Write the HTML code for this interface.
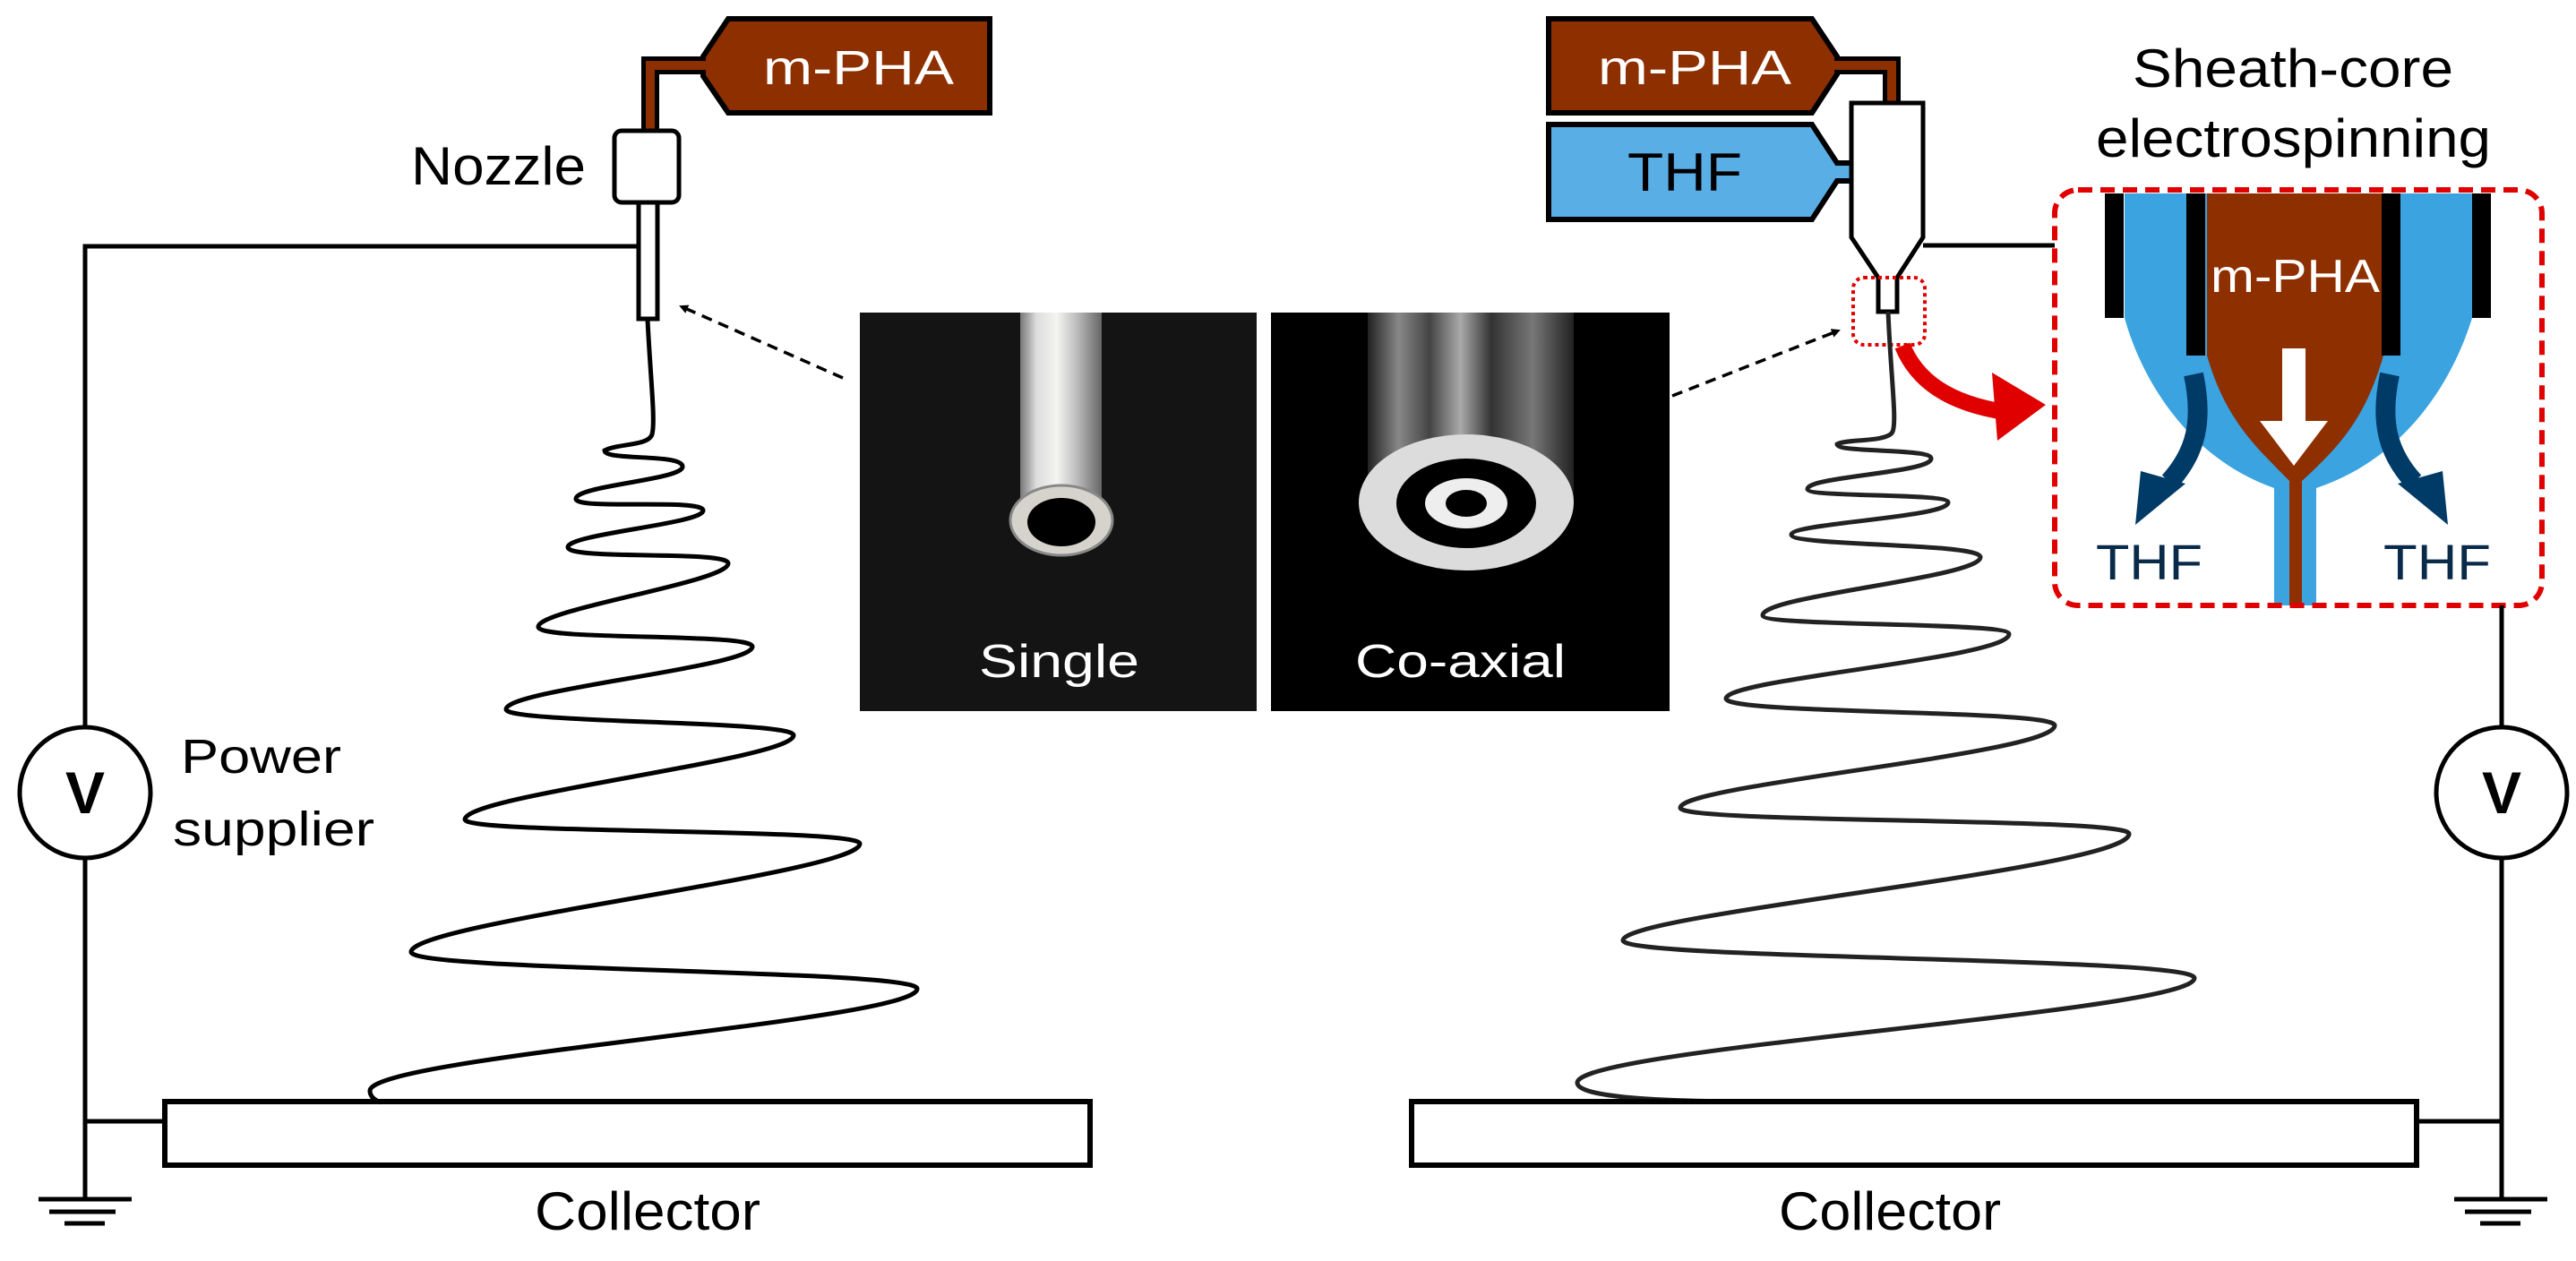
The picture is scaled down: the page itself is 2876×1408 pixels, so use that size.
<!DOCTYPE html>
<html><head><meta charset="utf-8"><style>
html,body{margin:0;padding:0;background:#fff;}
svg{display:block;}
text{font-family:"Liberation Sans",Arial,sans-serif;}
</style></head><body>
<svg width="2876" height="1408" viewBox="0 0 2876 1408" xmlns="http://www.w3.org/2000/svg">
<defs>
<linearGradient id="t1" x1="0" x2="1" y1="0" y2="0">
<stop offset="0" stop-color="#777"/><stop offset="0.2" stop-color="#ddd"/><stop offset="0.45" stop-color="#f4f4f0"/><stop offset="0.7" stop-color="#bbb"/><stop offset="1" stop-color="#666"/>
</linearGradient>
<linearGradient id="t2" x1="0" x2="1" y1="0" y2="0">
<stop offset="0" stop-color="#222"/><stop offset="0.15" stop-color="#888"/><stop offset="0.3" stop-color="#444"/><stop offset="0.45" stop-color="#aaa"/><stop offset="0.6" stop-color="#333"/><stop offset="0.8" stop-color="#777"/><stop offset="1" stop-color="#222"/>
</linearGradient>
<marker id="ah" markerWidth="10" markerHeight="10" refX="8" refY="5" orient="auto" markerUnits="userSpaceOnUse" viewBox="0 0 10 10"><path d="M0,0 L10,5 L0,10 Z" fill="#000"/></marker>
</defs>

<!-- LEFT SETUP -->
<polygon points="813,21 1105,21 1105,126 813,126 785,85 785,63" fill="#8e2f00" stroke="#000" stroke-width="6"/>
<text x="852" y="94" font-size="54" fill="#fff" textLength="213" lengthAdjust="spacingAndGlyphs">m-PHA</text>
<path d="M726,146 V73 H788" fill="none" stroke="#000" stroke-width="20"/>
<path d="M726,146 V73 H790" fill="none" stroke="#8e2f00" stroke-width="10"/>
<rect x="686" y="146" width="72" height="80" rx="8" fill="#fff" stroke="#000" stroke-width="5"/>
<rect x="713" y="226" width="21" height="130" fill="#fff" stroke="#000" stroke-width="5"/>
<text x="459" y="206" font-size="60" textLength="195" lengthAdjust="spacingAndGlyphs">Nozzle</text>
<path d="M712,275 H95 V812 M95,958 V1337 M95,1252 H184" fill="none" stroke="#000" stroke-width="5"/>
<ellipse cx="95" cy="885" rx="73" ry="73" fill="#fff" stroke="#000" stroke-width="5"/>
<text x="95" y="908" font-size="66" font-weight="bold" text-anchor="middle">V</text>
<path d="M43,1339 H147 M55,1353 H129 M72,1366 H117" stroke="#000" stroke-width="5"/>
<text x="202" y="863" font-size="54" textLength="179" lengthAdjust="spacingAndGlyphs">Power</text>
<text x="193" y="944" font-size="54" textLength="225" lengthAdjust="spacingAndGlyphs">supplier</text>
<rect x="184" y="1230" width="1033" height="71" fill="#fff" stroke="#000" stroke-width="6"/>
<text x="597" y="1373" font-size="60" textLength="252" lengthAdjust="spacingAndGlyphs">Collector</text>
<path d="M723,357 C726,420 732,470 728,485 C724,498 690,495 675,503
C675,515 762,506 762,521 C762,536 643,542 643,557 C643,570 785,556 785,570 C785,585 634,596 634,611
C634,626 813,614 813,629 C813,650 601,680 601,700 C601,716 840,706 840,722 C840,745 565,770 565,792
C565,808 886,804 886,821 C886,848 519,888 519,915 C519,932 960,924 960,942 C960,975 459,1030 459,1063
C459,1085 1024,1082 1024,1104 C1024,1140 413,1180 413,1218 C413,1225 420,1229 425,1231" fill="none" stroke="#000" stroke-width="5"/>
<line x1="941" y1="422" x2="760" y2="342" stroke="#000" stroke-width="3.5" stroke-dasharray="12,8" marker-end="url(#ah)"/>

<!-- PHOTOS -->
<rect x="960" y="349" width="443" height="445" fill="#141414"/>
<rect x="1139" y="349" width="91" height="232" fill="url(#t1)"/>
<ellipse cx="1185" cy="581" rx="57" ry="39" fill="#d6d3cc" stroke="#888" stroke-width="3"/>
<ellipse cx="1185" cy="583" rx="38" ry="27" fill="#000"/>
<text x="1093" y="756" font-size="52" fill="#fff" textLength="179" lengthAdjust="spacingAndGlyphs">Single</text>
<rect x="1419" y="349" width="445" height="445" fill="#000"/>
<rect x="1527" y="349" width="230" height="212" fill="url(#t2)"/>
<ellipse cx="1637" cy="561" rx="120" ry="76" fill="#dcdcdc"/>
<ellipse cx="1637" cy="562" rx="78" ry="50" fill="#000"/>
<ellipse cx="1637" cy="562" rx="46" ry="28" fill="#eee"/>
<ellipse cx="1637" cy="562" rx="23" ry="15" fill="#000"/>
<text x="1513" y="756" font-size="52" fill="#fff" textLength="235" lengthAdjust="spacingAndGlyphs">Co-axial</text>

<!-- RIGHT SETUP -->
<polygon points="1729,21 2023,21 2051,63 2051,83 2023,126 1729,126" fill="#8e2f00" stroke="#000" stroke-width="6"/>
<text x="1784" y="94" font-size="54" fill="#fff" textLength="216" lengthAdjust="spacingAndGlyphs">m-PHA</text>
<path d="M2049,73 H2112 V117" fill="none" stroke="#000" stroke-width="20"/>
<path d="M2047,73 H2112 V117" fill="none" stroke="#8e2f00" stroke-width="10"/>
<polygon points="1729,139 2023,139 2051,182 2069,182 2069,202 2051,202 2023,245 1729,245" fill="#5aaee6" stroke="#000" stroke-width="6"/>
<text x="1817" y="213" font-size="60" fill="#000" textLength="128" lengthAdjust="spacingAndGlyphs">THF</text>
<polygon points="2067,115 2147,115 2147,265 2118,310 2118,348 2097,348 2097,310 2067,265" fill="#fff" stroke="#000" stroke-width="5"/>
<path d="M2147,274 H2294" stroke="#000" stroke-width="5"/>
<rect x="2069" y="310" width="80" height="75" rx="12" fill="none" stroke="#e00000" stroke-width="4" stroke-dasharray="4,4"/>
<path d="M2108,348 C2111,420 2118,470 2113,482 C2108,494 2060,490 2051,496
C2051,506 2156,500 2156,512 C2156,528 2018,532 2018,546 C2018,556 2175,550 2175,561 C2175,578 2000,584 2000,597
C2000,610 2211,606 2211,622 C2211,645 1968,665 1968,687 C1968,700 2243,694 2243,708 C2243,735 1927,758 1927,780
C1927,798 2294,792 2294,810 C2294,842 1876,876 1876,902 C1876,920 2377,912 2377,931 C2377,970 1812,1020 1812,1050
C1812,1072 2450,1068 2450,1092 C2450,1130 1761,1170 1761,1209 C1761,1225 1850,1230 1960,1230" fill="none" stroke="#222" stroke-width="5"/>
<line x1="1867" y1="442" x2="2053" y2="369" stroke="#000" stroke-width="3.5" stroke-dasharray="12,8" marker-end="url(#ah)"/>
<!-- red curved arrow -->
<path d="M2124,386 C2140,425 2175,450 2238,460" fill="none" stroke="#e00000" stroke-width="18"/>
<polygon points="2224,416 2284,452 2230,492" fill="#e00000"/>

<text x="2381" y="97" font-size="60" textLength="358" lengthAdjust="spacingAndGlyphs">Sheath-core</text>
<text x="2340" y="175" font-size="60" textLength="441" lengthAdjust="spacingAndGlyphs">electrospinning</text>

<!-- inset -->
<path d="M2372,216 H2760 V355 C2740,420 2690,510 2586,545 V676 H2539 V545 C2440,510 2390,420 2372,355 Z" fill="#3aa3e0"/>
<path d="M2464,216 H2661 V397 C2640,470 2610,500 2570,537 V676 H2556 V537 C2520,500 2485,470 2464,397 Z" fill="#8e2f00"/>
<rect x="2350" y="216" width="21" height="139" fill="#000"/>
<rect x="2760" y="216" width="21" height="139" fill="#000"/>
<rect x="2441" y="216" width="21" height="181" fill="#000"/>
<rect x="2659" y="216" width="21" height="181" fill="#000"/>
<text x="2468" y="326" font-size="52" fill="#fff" textLength="189" lengthAdjust="spacingAndGlyphs">m-PHA</text>
<rect x="2548" y="389" width="26" height="82" fill="#fff"/>
<polygon points="2523,470 2599,470 2561,520" fill="#fff"/>
<path d="M2449,418 C2460,470 2452,505 2422,538" fill="none" stroke="#003a66" stroke-width="22"/>
<polygon points="2390,526 2440,540 2384,586" fill="#003a66"/>
<path d="M2668,418 C2657,470 2665,505 2695,538" fill="none" stroke="#003a66" stroke-width="22"/>
<polygon points="2727,526 2677,540 2733,586" fill="#003a66"/>
<text x="2340" y="647" font-size="56" fill="#0a2a4a" textLength="119" lengthAdjust="spacingAndGlyphs">THF</text>
<text x="2661" y="647" font-size="56" fill="#0a2a4a" textLength="120" lengthAdjust="spacingAndGlyphs">THF</text>
<rect x="2294" y="212" width="544" height="464" rx="26" fill="none" stroke="#e00000" stroke-width="6" stroke-dasharray="16,9"/>

<path d="M2793,676 V812 M2793,958 V1337 M2698,1252 H2793" fill="none" stroke="#000" stroke-width="5"/>
<ellipse cx="2793" cy="885" rx="73" ry="73" fill="#fff" stroke="#000" stroke-width="5"/>
<text x="2793" y="908" font-size="66" font-weight="bold" text-anchor="middle">V</text>
<path d="M2740,1339 H2844 M2752,1353 H2826 M2769,1366 H2814" stroke="#000" stroke-width="5"/>
<rect x="1576" y="1230" width="1122" height="71" fill="#fff" stroke="#000" stroke-width="6"/>
<text x="1986" y="1373" font-size="60" textLength="248" lengthAdjust="spacingAndGlyphs">Collector</text>
</svg>
</body></html>
